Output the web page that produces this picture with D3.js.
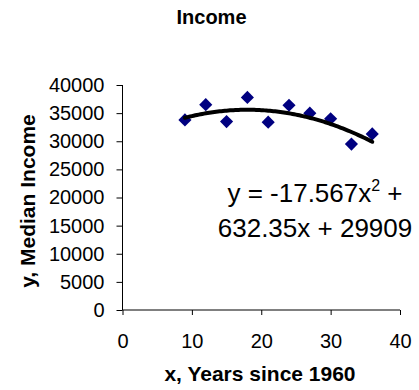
<!DOCTYPE html>
<html><head><meta charset="utf-8">
<script src="https://cdn.jsdelivr.net/npm/d3@7"></script>
<style>
html,body{margin:0;padding:0;background:#fff;}
text{font-family:"Liberation Sans",Arial,sans-serif;}
</style></head>
<body>
<script>
const years = [9, 12, 15, 18, 21, 24, 27, 30, 33, 36];
const income = [33800, 36500, 33500, 37800, 33400, 36400, 35000, 34000, 29500, 31300];
const trendCoef = [-17.567, 632.35, 29909];
const xTicks = [0, 10, 20, 30, 40];
const yTicks = [0, 5000, 10000, 15000, 20000, 25000, 30000, 35000, 40000];
const titleText = "Income";
const xTitle = "x, Years since 1960";
const yTitle = "y, Median Income";

const W = 419, H = 390;
const svg = d3.select("body").append("svg").attr("width", W).attr("height", H);

const x = d3.scaleLinear().domain([0, 40]).range([122.5, 400]);
const y = d3.scaleLinear().domain([0, 40000]).range([310, 85]);

// axes
const yAxis = d3.axisLeft(y).tickValues(yTicks).tickSize(6).tickPadding(12).tickFormat(d => String(d));
const gy = svg.append("g").attr("transform", `translate(${x(0)},0)`).call(yAxis);
const xAxis = d3.axisBottom(x).tickValues(xTicks).tickSize(5).tickPadding(19).tickFormat(d => String(d));
const gx = svg.append("g").attr("transform", `translate(0,${y(0)})`).call(xAxis);
[gx, gy].forEach(g => {
  g.select(".domain").attr("stroke", "#000").attr("stroke-width", 1);
  g.selectAll(".tick line").attr("stroke", "#000");
  g.selectAll(".tick text").attr("fill", "#000").style("font-size", "20px")
   .style("font-family", '"Liberation Sans",Arial,sans-serif');
});
gy.select(".domain").attr("d", `M-6,${y(40000)}H0V${y(0)}`).attr("d", `M0,${y(40000)}V${y(0)}`);
gx.select(".domain").attr("d", `M${x(0)},0H${x(40)}`);

// markers
const diamond = d3.symbol().type(d3.symbolDiamond2).size(110);
svg.append("g").selectAll("path").data(years).join("path")
  .attr("d", diamond)
  .attr("transform", (d, i) => `translate(${x(d)},${y(income[i])}) rotate(0)`)
  .attr("fill", "#000080");

// trendline
const f = t => trendCoef[0] * t * t + trendCoef[1] * t + trendCoef[2];
const xs = d3.range(years[0], years[years.length - 1] + 0.001, 0.25);
svg.append("path")
  .attr("d", d3.line().x(t => x(t)).y(t => y(f(t)))(xs))
  .attr("fill", "none").attr("stroke", "#000").attr("stroke-width", 4)
  .attr("stroke-linecap", "round");

// equation
const eq = svg.append("text").attr("x", 315).attr("y", 202).attr("text-anchor", "middle")
  .style("font-size", "26px").attr("fill", "#000");
eq.append("tspan").text(`y = ${trendCoef[0]}x`);
eq.append("tspan").attr("dy", -11).style("font-size", "16px").text("2");
eq.append("tspan").attr("dy", 11).text(" +");
svg.append("text").attr("x", 315).attr("y", 237).attr("text-anchor", "middle")
  .style("font-size", "26px").attr("fill", "#000")
  .text(`${trendCoef[1]}x + ${trendCoef[2]}`);

// titles
svg.append("text").attr("x", 211.5).attr("y", 24).attr("text-anchor", "middle")
  .style("font-size", "20px").style("font-weight", "bold").text(titleText);
svg.append("text").attr("x", 260).attr("y", 381).attr("text-anchor", "middle")
  .style("font-size", "21px").style("font-weight", "bold").text(xTitle);
svg.append("text").attr("transform", "translate(35,201) rotate(-90)").attr("text-anchor", "middle")
  .style("font-size", "21px").style("font-weight", "bold").text(yTitle);
</script>
</body></html>
